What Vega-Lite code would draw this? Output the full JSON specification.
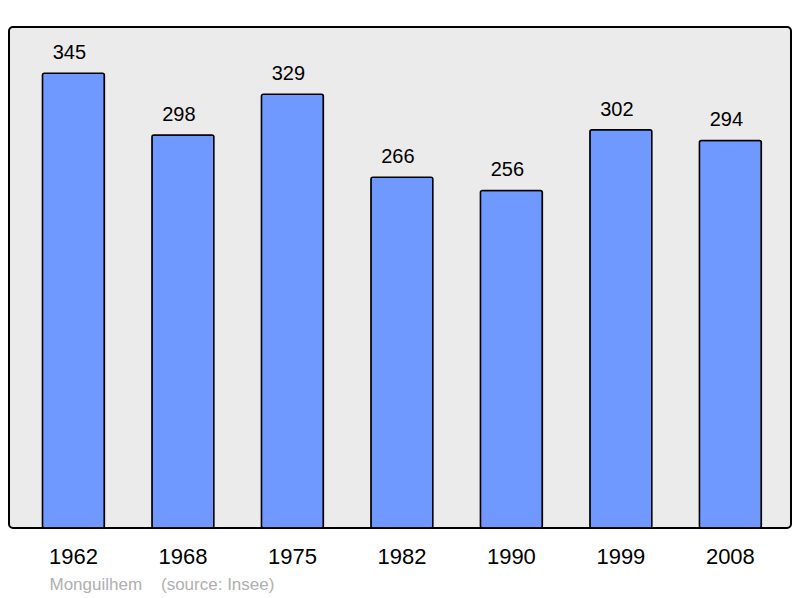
{
  "$schema": "https://vega.github.io/schema/vega-lite/v6.json",
  "width": 782,
  "height": 501,
  "autosize": {"type": "none"},
  "padding": {"left": 9, "top": 27, "right": 9, "bottom": 70},
  "background": "white",
  "config": {
    "font": "Liberation Sans",
    "view": {"fill": "#ebebeb", "stroke": "black", "strokeWidth": 2, "cornerRadius": 4}
  },
  "data": {
    "values": [
      {"year": "1962", "pop": 345},
      {"year": "1968", "pop": 298},
      {"year": "1975", "pop": 329},
      {"year": "1982", "pop": 266},
      {"year": "1990", "pop": 256},
      {"year": "1999", "pop": 302},
      {"year": "2008", "pop": 294}
    ]
  },
  "encoding": {
    "x": {
      "field": "year",
      "type": "ordinal",
      "scale": {"paddingInner": 0.434, "paddingOuter": 0.288, "align": 0.53},
      "axis": {
        "title": "Monguilhem \u00a0\u00a0\u00a0(source: Insee)",
        "titleX": 40,
        "titleY": 61,
        "titleAlign": "left",
        "titleAnchor": "start",
        "titleBaseline": "alphabetic",
        "titleColor": "#b0b0b0",
        "titleFontSize": 17,
        "titleFontWeight": "normal",
        "labelAngle": 0,
        "labelFontSize": 22,
        "labelColor": "black",
        "labelBaseline": "alphabetic",
        "labelPadding": 35,
        "ticks": false,
        "tickSize": 0,
        "domain": false,
        "grid": false
      }
    },
    "y": {
      "field": "pop",
      "type": "quantitative",
      "scale": {"domain": [0, 380], "nice": false},
      "axis": null
    }
  },
  "layer": [
    {
      "mark": {"type": "bar", "fill": "#7099ff", "stroke": "black", "strokeWidth": 1.5, "cornerRadius": 2}
    },
    {
      "mark": {"type": "text", "dx": -4, "dy": -14, "baseline": "alphabetic", "fontSize": 20, "color": "black"},
      "encoding": {"text": {"field": "pop", "type": "quantitative"}}
    }
  ]
}
